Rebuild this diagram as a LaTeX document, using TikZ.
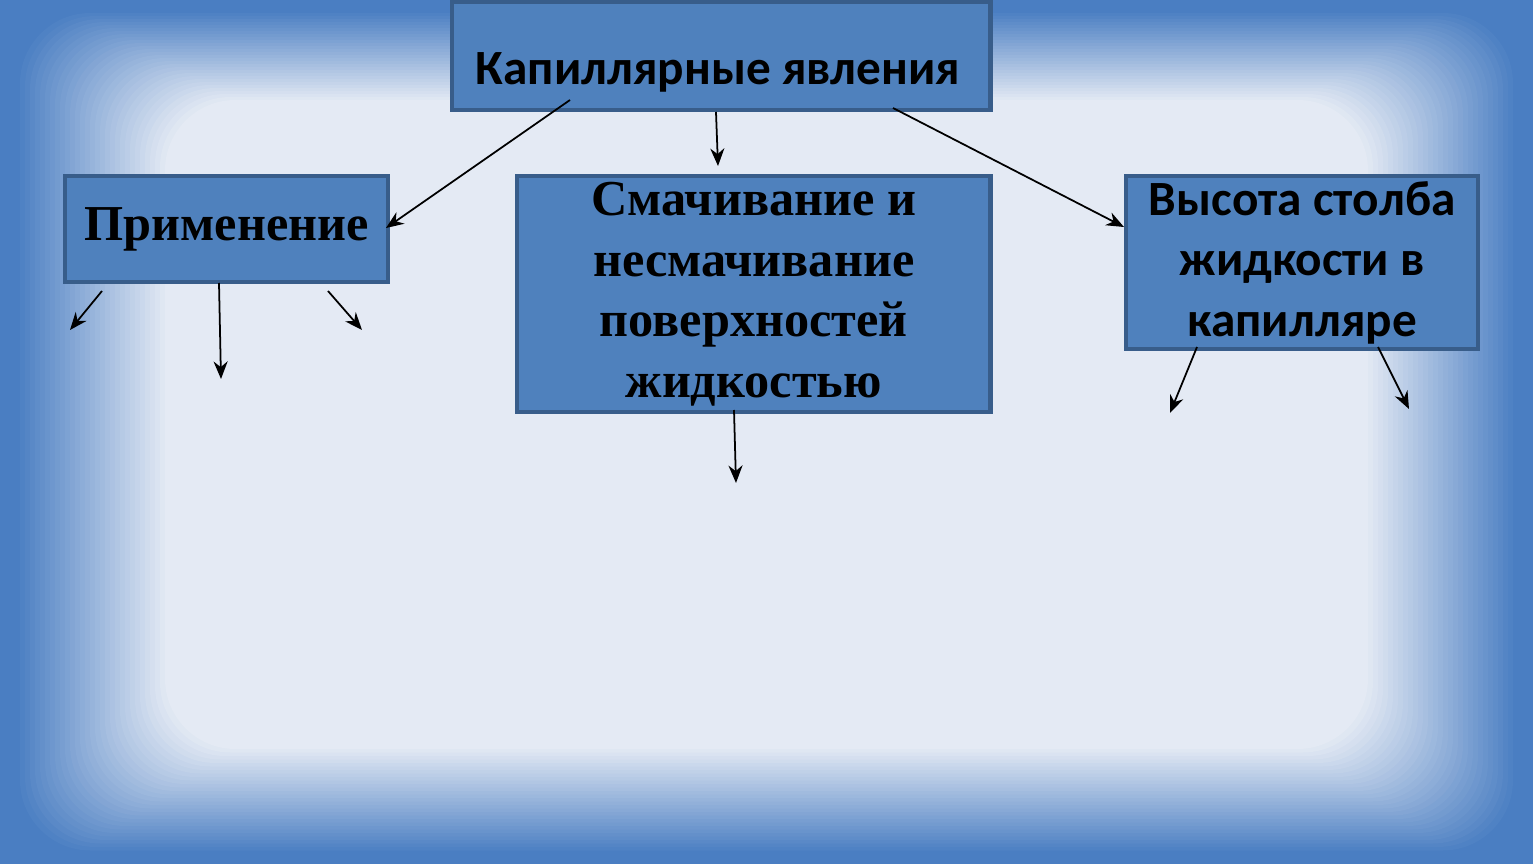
\documentclass[tikz,border=0pt]{standalone}
\usepackage{fontspec}
\setmainfont{Liberation Serif}
\newfontfamily\carlitofont{Carlito}
\usetikzlibrary{arrows.meta}
\definecolor{frameblue}{HTML}{4A7EC2}
\definecolor{inner}{HTML}{E4EAF4}
\definecolor{boxfill}{HTML}{4F81BD}
\definecolor{boxline}{HTML}{385D8A}
\tikzset{
 box/.style={draw=boxline,line width=1.2pt,fill=boxfill,inner sep=0pt,anchor=north west,align=center},
 conn/.style={-{Stealth[length=5pt,width=4pt]},black,line width=0.5pt}
}
\begin{document}
\begin{tikzpicture}[x=0.01cm,y=-0.01cm]
\useasboundingbox (0,0) rectangle (1533,864);
\fill[frameblue] (0,0) rectangle (1533,864);
\foreach \i in {0,...,30}{
  \pgfmathsetmacro\m{\i*100/30}
  \fill[inner!\m!frameblue,rounded corners=20] (15+\i*5,10+\i*3) rectangle (1518-\i*5,854-\i*3.5);
}
\node[box,minimum width=5.38cm,minimum height=1.08cm] (top) at (450,0) {};
\node[font=\carlitofont\bfseries\fontsize{14}{17}\selectfont,inner sep=0pt] (toplabel) at (718,72) {Капиллярные явления};
\node[box,minimum width=3.23cm,minimum height=1.06cm,font=\bfseries\fontsize{14.3}{17}\selectfont] (app) at (63,174) {Применение};
\node[box,minimum width=4.73cm,minimum height=2.36cm,font=\bfseries\fontsize{14.3}{17.2}\selectfont] (wet) at (515,174) {Смачивание и\\несмачивание\\поверхностей\\жидкостью};
\node[box,minimum width=3.52cm,minimum height=1.73cm,font=\carlitofont\bfseries\fontsize{14}{17.2}\selectfont] (col) at (1124,174) {Высота столба\\жидкости в\\капилляре};
\coordinate (s1) at (570,100); \coordinate (e1) at (386,228);
\coordinate (s2) at (716,112); \coordinate (e2) at (718,166);
\coordinate (s3) at (893,108); \coordinate (e3) at (1124,227);
\coordinate (s4) at (102,291); \coordinate (e4) at (70,330);
\coordinate (s5) at (219,283); \coordinate (e5) at (221,379);
\coordinate (s6) at (328,291); \coordinate (e6) at (362,330);
\coordinate (s7) at (734,410); \coordinate (e7) at (736,483);
\coordinate (s8) at (1197,347); \coordinate (e8) at (1170,413);
\coordinate (s9) at (1378,347); \coordinate (e9) at (1409,409);
\foreach \k in {1,...,9}{\draw[conn] (s\k) -- (e\k);}
\end{tikzpicture}
\end{document}
